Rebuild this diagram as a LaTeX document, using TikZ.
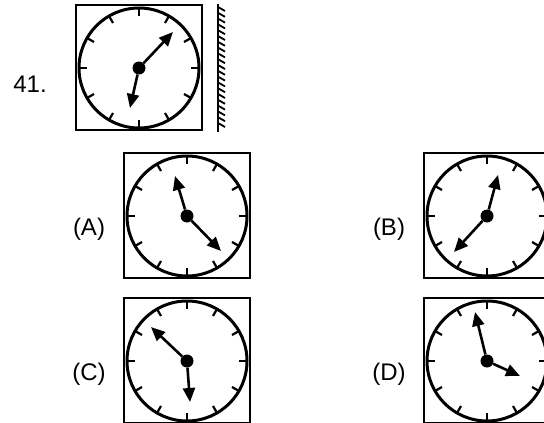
\documentclass[tikz,border=0pt]{standalone}
\usepackage{fontspec}
\setmainfont{Liberation Sans}
\usetikzlibrary{arrows.meta}
\tikzset{
    frame/.style={line width=2.8pt},
    face/.style={line width=3pt},
    tickmark/.style={line width=2.2pt},
    hub/.style={circle, fill, inner sep=0pt, minimum size=13pt},
    hand/.style={line width=2.6pt, -{Triangle[length=14pt, width=12pt]}},
    tag/.style={inner sep=0pt, font=\fontsize{24}{28}\selectfont},
}
\newcommand{\dial}[1]{%
    \begin{scope}[shift={(#1)}]
        \draw[frame] (-63, -63) rectangle (63, 62);
        \draw[face] (0, 0) circle (60);
        \foreach \a in {0, 30, ..., 330}
            \draw[tickmark] (\a:60) -- (\a:52);
    \end{scope}}
\begin{document}
\begin{tikzpicture}[x=1pt, y=-1pt]
    \clip (0, 0) rectangle (544, 423);
    % question clock and mirror
    \dial{139, 68}
    \draw[line width=2.4pt] (218, 4) -- (218, 132);
    \foreach \y in {7, 12.8, ..., 128}
        \draw[line width=1.8pt] (218, \y) -- (225, \y + 4);
    \node[tag] (q) at (30, 84) {41.};
    \node[hub] (c0) at (139, 68) {};
    \coordinate (c0m) at (173, 32);
    \coordinate (c0h) at (130, 108);
    \draw[hand] (c0) -- (c0m);
    \draw[hand] (c0) -- (c0h);
    % options
    \dial{187, 216}
    \dial{487, 216}
    \dial{187, 361}
    \dial{487, 361}
    \node[tag] (la) at (89, 229) {(A)};
    \node[tag] (lb) at (389, 229) {(B)};
    \node[tag] (lc) at (89, 374) {(C)};
    \node[tag] (ld) at (389, 374) {(D)};
    \node[hub] (ca) at (187, 216) {};
    \node[hub] (cb) at (487, 216) {};
    \node[hub] (cc) at (187, 361) {};
    \node[hub] (cd) at (487, 361) {};
    \coordinate (cah) at (175, 176);
    \coordinate (cam) at (221, 251);
    \coordinate (cbh) at (498, 175);
    \coordinate (cbm) at (454, 252);
    \coordinate (ccm) at (151, 327);
    \coordinate (cch) at (190, 402);
    \coordinate (cdm) at (475, 312);
    \coordinate (cdh) at (520, 376);
    \draw[hand] (ca) -- (cah);
    \draw[hand] (ca) -- (cam);
    \draw[hand] (cb) -- (cbh);
    \draw[hand] (cb) -- (cbm);
    \draw[hand] (cc) -- (ccm);
    \draw[hand] (cc) -- (cch);
    \draw[hand] (cd) -- (cdm);
    \draw[hand] (cd) -- (cdh);
\end{tikzpicture}
\end{document}
